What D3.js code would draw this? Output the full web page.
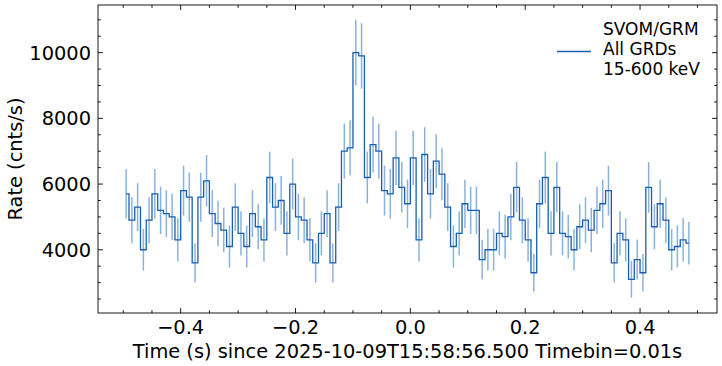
<!DOCTYPE html>
<html><head><meta charset="utf-8">
<script src="https://cdn.jsdelivr.net/npm/d3@7"></script>
<style>
html,body{margin:0;padding:0;background:#fff;}
svg{display:block;font-family:"DejaVu Sans",sans-serif;}
</style></head>
<body><svg id="c" width="722" height="366"></svg>
<script>
// Bin-centre times: -0.495 + 0.01*i, i = 0..98 (Timebin = 0.01 s)
const binStart = -0.495;
const binWidth = 0.01;
const rates = [5700,4900,5300,4000,4900,5700,5200,5100,5000,4300,
  5800,5600,3600,5600,6100,5100,4800,4600,4100,5300,
  4500,4100,5100,4700,4300,6200,5300,5500,4500,6000,
  5000,4900,4300,3600,4500,5100,3600,5300,7000,7100,
  10000,9900,6200,7200,7000,5800,5700,6800,5900,5400,
  6800,4300,6900,5700,6700,6300,5300,4100,4500,5400,
  5200,5200,3700,4000,4000,4500,4400,5000,5900,4900,
  4300,3300,5400,6200,4500,5900,4500,4400,4000,4700,
  4900,4600,5200,5400,5800,3600,4500,4300,3100,3700,
  3300,5900,4700,5400,4900,4000,4100,4300,4200];
const errors = [755,700,728,632,700,755,721,714,707,656,
  762,748,600,748,781,714,693,678,640,728,
  671,640,714,686,656,787,728,742,671,775,
  707,700,656,600,671,714,600,728,837,843,
  1000,995,787,849,837,762,755,825,768,735,
  825,656,831,755,819,794,728,640,671,735,
  721,721,608,632,632,671,663,707,768,700,
  656,574,735,787,671,768,671,663,632,686,
  700,678,721,735,762,600,671,656,557,608,
  574,768,686,735,700,632,640,656,648];
const xTicks = [-0.4,-0.2,0.0,0.2,0.4];
const yTicks = [4000,6000,8000,10000];
const legendLines = ["SVOM/GRM","All GRDs","15-600 keV"];
const xLabel = "Time (s) since 2025-10-09T15:58:56.500 Timebin=0.01s";
const yLabel = "Rate (cnts/s)";

const times = rates.map((_, i) => binStart + binWidth * i);
const data = rates.map((r, i) => ({t: times[i], r: r, e: errors[i]}));

const L = 98, R = 717, T = 5, B = 313;
const svg = d3.select("#c");
const x = d3.scaleLinear().domain([-0.544, 0.534]).range([L, R]);
const y = d3.scaleLinear().domain([2075, 11451]).range([B, T]);

const col = "#1a5fae";
const fs = 19.4;

// error bars
svg.append("g").selectAll("line").data(data).join("line")
  .attr("x1", d => x(d.t)).attr("x2", d => x(d.t))
  .attr("y1", d => y(d.r - d.e)).attr("y2", d => y(d.r + d.e))
  .attr("stroke", "#3d7fc4").attr("stroke-opacity", 0.6).attr("stroke-width", 1.5);

// step line
const line = d3.line().x(d => x(d.t)).y(d => y(d.r)).curve(d3.curveStep);
svg.append("path").datum(data).attr("d", line)
  .attr("fill", "none").attr("stroke", col).attr("stroke-width", 1.3);

// frame
svg.append("rect").attr("x", L).attr("y", T).attr("width", R - L).attr("height", B - T)
  .attr("fill", "none").attr("stroke", "#000").attr("stroke-width", 0.9);

// ticks
const tg = svg.append("g").attr("stroke", "#000").attr("stroke-width", 0.9);
const xMinor = d3.range(-0.5, 0.5001, 0.05).filter(v => !xTicks.some(t => Math.abs(t - v) < 1e-6));
const yMinor = d3.range(2500, 11001, 500).filter(v => !yTicks.includes(v));
xTicks.forEach(v => {
  tg.append("line").attr("x1", x(v)).attr("x2", x(v)).attr("y1", B).attr("y2", B - 4.9);
  tg.append("line").attr("x1", x(v)).attr("x2", x(v)).attr("y1", T).attr("y2", T + 4.9);
});
xMinor.forEach(v => {
  tg.append("line").attr("x1", x(v)).attr("x2", x(v)).attr("y1", B).attr("y2", B - 2.8);
  tg.append("line").attr("x1", x(v)).attr("x2", x(v)).attr("y1", T).attr("y2", T + 2.8);
});
yTicks.forEach(v => {
  tg.append("line").attr("y1", y(v)).attr("y2", y(v)).attr("x1", L).attr("x2", L + 4.9);
  tg.append("line").attr("y1", y(v)).attr("y2", y(v)).attr("x1", R).attr("x2", R - 4.9);
});
yMinor.forEach(v => {
  tg.append("line").attr("y1", y(v)).attr("y2", y(v)).attr("x1", L).attr("x2", L + 2.8);
  tg.append("line").attr("y1", y(v)).attr("y2", y(v)).attr("x1", R).attr("x2", R - 2.8);
});

// tick labels
const fmtX = v => (v < 0 ? "\u2212" : "") + Math.abs(v).toFixed(1);
svg.append("g").selectAll("text").data(xTicks).join("text")
  .attr("x", d => x(d)).attr("y", 333.5).attr("text-anchor", "middle")
  .attr("font-size", fs).text(fmtX);
svg.append("g").selectAll("text").data(yTicks).join("text")
  .attr("x", 91).attr("y", d => y(d) + 7).attr("text-anchor", "end")
  .attr("font-size", fs).text(d => String(d));

// axis labels
svg.append("text").attr("x", (L + R) / 2).attr("y", 357.5).attr("text-anchor", "middle")
  .attr("font-size", fs).text(xLabel);
svg.append("text").attr("transform", `translate(22,${(T + B) / 2}) rotate(-90)`)
  .attr("text-anchor", "middle").attr("font-size", fs).text(yLabel);

// legend
svg.append("line").attr("x1", 557).attr("x2", 591).attr("y1", 51.5).attr("y2", 51.5)
  .attr("stroke", col).attr("stroke-width", 1.3);
svg.append("g").selectAll("text").data(legendLines).join("text")
  .attr("x", 603).attr("y", (d, i) => 35 + i * 20.2)
  .attr("font-size", 17).text(d => d);
</script></body></html>
